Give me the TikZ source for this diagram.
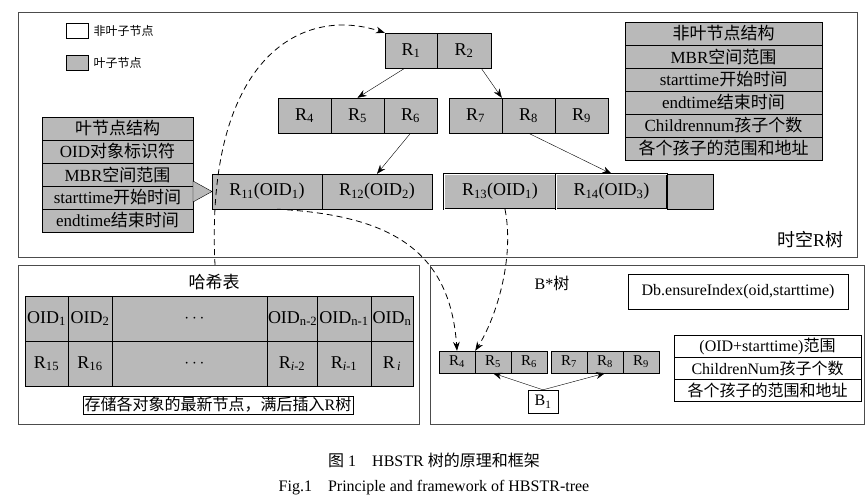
\documentclass[tikz,border=0pt]{standalone}
\usepackage{fontspec}
\setmainfont{Liberation Serif}
\newfontfamily\cjk{Noto Sans CJK SC}
\usetikzlibrary{arrows.meta, positioning}
\newcommand{\Rs}[1]{R\textsubscript{#1}}
\newcommand{\zh}[1]{{\cjk #1}}
\begin{document}
\begin{tikzpicture}[
    x=1pt, y=-1pt,
    cell/.style = {rectangle, draw, fill=gray!55, inner sep=0pt, minimum height=35, font=\fontsize{18}{18}\selectfont},
    row/.style = {rectangle, draw, fill=gray!55, inner sep=0pt, minimum height=23, font=\fontsize{17}{17}\selectfont},
    wrow/.style = {row, fill=white},
    frame/.style = {draw, thick, gray!60!black},
    pil/.style = {black, -{Stealth[length=9pt]}},
    dpil/.style = {black, dash pattern=on 6pt off 4pt, thick, -{Stealth[length=9pt]}},
    ]
    \useasboundingbox (0,0) rectangle (867,500);
    % frames
    \draw[frame] (18,12) rectangle (857,257);
    \draw[frame] (18,265) rectangle (419,424);
    \draw[frame] (430,265) rectangle (864,424);
    % legend
    \node[draw, minimum width=22, minimum height=15, inner sep=0pt] (lgw) at (77,31) {};
    \node[right=2pt of lgw, font=\cjk\fontsize{12}{12}\selectfont] {非叶子节点};
    \node[draw, fill=gray!55, minimum width=22, minimum height=15, inner sep=0pt] (lgg) at (77,63) {};
    \node[right=2pt of lgg, font=\cjk\fontsize{12}{12}\selectfont] {叶子节点};
    % R-tree
    \node[cell, minimum width=52] (r1) at (411,50.5) {\Rs{1}};
    \node[cell, minimum width=54] (r2) at (464,50.5) {\Rs{2}};
    \foreach \n/\x in {4/304.5, 5/357.5, 6/410.5, 7/475.5, 8/528.5, 9/581.5}
        \node[cell, minimum width=53] (r\n) at (\x,115.5) {\Rs{\n}};
    \node[cell, minimum width=110] (r11) at (267,191.5) {\Rs{11}(OID\textsubscript{1})};
    \node[cell, minimum width=110] (r12) at (377,191.5) {\Rs{12}(OID\textsubscript{2})};
    \node[cell, minimum width=112, double] (r13) at (500,191.5) {\Rs{13}(OID\textsubscript{1})};
    \node[cell, minimum width=111, double] (r14) at (611.5,191.5) {\Rs{14}(OID\textsubscript{3})};
    \node[cell, minimum width=46] (r15) at (690,191.5) {};
    \node[font=\fontsize{18}{18}\selectfont] (rlab) at (810,240) {\zh{时空}R\zh{树}};
    % tree edges
    \draw[pil] (r1.south west) ++(20,0) coordinate (a1) -- (r5.north);
    \draw[pil] (r2.south east) ++(-10,0) coordinate (a2) -- (r8.north west);
    \draw[pil] (r6.south) -- (r12.north);
    \draw[pil] (r8.south) -- (r14.north);
    % leaf structure
    \foreach \t [count=\i] in {\zh{叶节点结构}, OID\zh{对象标识符}, MBR\zh{空间范围}, starttime\zh{开始时间}, endtime\zh{结束时间}}
        \node[row, minimum width=151] (lf\i) at (117.5,105.5+23*\i) {\t};
    \draw[fill=gray!55] (193,181) -- (212,191.5) -- (193,202) -- cycle;
    % non-leaf structure
    \foreach \t [count=\i] in {\zh{非叶节点结构}, MBR\zh{空间范围}, starttime\zh{开始时间}, endtime\zh{结束时间}, Childrennum\zh{孩子个数}, \zh{各个孩子的范围和地址}}
        \node[row, minimum width=197] (nl\i) at (723.5,10.5+23*\i) {\t};
    % hash table
    \node[font=\cjk\fontsize{17}{17}\selectfont] (htlab) at (214,282) {哈希表};
    \foreach \a/\b/\t/\r [count=\i] in {25/68/OID\textsubscript{1}/\Rs{15}, 68/112/OID\textsubscript{2}/\Rs{16}, 112/267/\hspace*{10pt}$\cdots$\hfill/\hspace*{10pt}$\cdots$\hfill, 267/317/OID\textsubscript{n-2}/R\textsubscript{\textit{i}-2}, 317/371/OID\textsubscript{n-1}/R\textsubscript{\textit{i}-1}, 371/413/OID\textsubscript{n}/R\textsubscript{\,\textit{i}}}{
        \node[cell, minimum width=\b-\a, minimum height=45, text width=\b-\a-2, align=center] (ho\i) at ({(\a+\b)/2},318.5) {\t};
        \node[cell, minimum width=\b-\a, minimum height=45, text width=\b-\a-2, align=center] (hr\i) at ({(\a+\b)/2},363.5) {\r};
    }
    \node[draw, inner sep=1.5pt, font=\fontsize{16}{16}\selectfont] (note) at (218,405) {\zh{存储各对象的最新节点，满后插入}R\zh{树}};
    % B* tree
    \node[font=\fontsize{16}{16}\selectfont] (bstlab) at (552,283) {B*\zh{树}};
    \node[draw, minimum width=220, minimum height=35, font=\fontsize{16}{16}\selectfont] (db) at (738,291.5) {Db.ensureIndex(oid,starttime)};
    \foreach \t [count=\i] in {(OID+starttime)\zh{范围}, ChildrenNum\zh{孩子个数}, \zh{各个孩子的范围和地址}}
        \node[wrow, minimum width=187, minimum height=22, font=\fontsize{16}{16}\selectfont] (bt\i) at (767.5,324.5+22*\i) {\t};
    \foreach \n/\x in {4/457, 5/493, 6/529, 7/569, 8/605, 9/641}
        \node[cell, minimum width=36, minimum height=22, font=\fontsize{15}{15}\selectfont] (b\n) at (\x,362) {\Rs{\n}};
    \node[draw, minimum width=30, minimum height=23, inner sep=0pt, font=\fontsize{16}{16}\selectfont] (b1) at (543,401.5) {B\textsubscript{1}};
    \draw[pil] (b1.north) -- (b5.south);
    \draw[pil] (b1.north) -- (b8.south);
    % dashed links
    \coordinate (hs) at (215,265);
    \draw[dpil] (hs) .. controls (205,60) and (300,5) .. (r1.north west);
    \draw[dpil] (r11.south) ++(10,0) coordinate (c1) .. controls (390,215) and (450,250) .. (b4.north);
    \draw[dpil] (r13.south) ++(5,0) coordinate (c2) .. controls (515,260) and (495,320) .. (b4.north east);
    % caption
    \node[font=\fontsize{16}{16}\selectfont] (cap1) at (434,460) {\zh{图} 1\quad HBSTR \zh{树的原理和框架}};
    \node[font=\fontsize{16}{16}\selectfont] (cap2) at (434,488) {Fig.1\quad Principle and framework of HBSTR-tree};
\end{tikzpicture}
\end{document}
